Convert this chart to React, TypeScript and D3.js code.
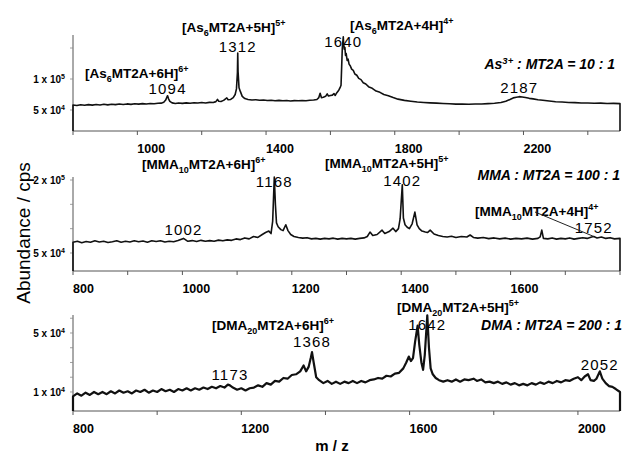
import * as d3 from "d3";

// m/z and abundance (in 1000 cps)
const asSpectrum: [number, number][] = [
  [800, 58], [812, 57.2], [824, 58.4], [836, 57.6], [848, 58.6], [860, 57.8], [872, 58.8], [884, 58.1],
  [896, 59.2], [908, 58.3], [920, 59.3], [932, 58.6], [944, 59.6], [956, 58.9], [968, 59.8], [980, 59.1],
  [992, 60.1], [1004, 59.4], [1016, 60.3], [1028, 59.6], [1040, 60.5], [1052, 60], [1064, 60.8], [1074, 61],
  [1082, 62.5], [1088, 66], [1092, 71], [1094, 73], [1097, 68], [1101, 64], [1108, 61.5], [1118, 60.6],
  [1128, 61.4], [1140, 60.7], [1152, 61.5], [1164, 60.9], [1176, 61.8], [1188, 61.2], [1200, 62], [1212, 61.4],
  [1224, 62.3], [1236, 62], [1244, 63.5], [1249, 67], [1253, 64], [1260, 63.8], [1268, 65.5], [1274, 68],
  [1278, 69.5], [1282, 66.5], [1290, 67], [1298, 70], [1304, 75], [1308, 84], [1311, 110], [1312, 142],
  [1313, 112], [1316, 86], [1320, 80], [1326, 72], [1334, 68.5], [1344, 67], [1356, 66.2], [1368, 66.6],
  [1380, 65.6], [1392, 66.1], [1404, 65.2], [1416, 65.8], [1428, 65], [1440, 65.5], [1452, 64.8], [1464, 65.3],
  [1476, 64.6], [1488, 65.1], [1500, 64.8], [1512, 65.4], [1524, 65], [1536, 65.8], [1548, 66], [1558, 67],
  [1564, 70], [1568, 77], [1572, 70], [1578, 70.5], [1585, 72], [1590, 76], [1594, 72.5], [1600, 73.5],
  [1606, 74], [1611, 76.5], [1615, 73.5], [1620, 78], [1626, 82], [1630, 86], [1633, 90], [1635, 120],
  [1637, 150], [1639, 162], [1640, 168], [1641, 158], [1643, 148], [1645, 151], [1647, 138], [1649, 141],
  [1652, 130], [1655, 132], [1658, 124], [1662, 121], [1666, 116], [1671, 114], [1676, 108], [1682, 106],
  [1688, 101], [1695, 99], [1702, 94], [1710, 92], [1720, 87], [1730, 85], [1742, 80.5], [1754, 78.5],
  [1766, 75], [1780, 73], [1795, 70], [1810, 67.5], [1830, 65.5], [1850, 64.2], [1870, 63], [1890, 62.2],
  [1910, 61.5], [1930, 61], [1950, 60.4], [1970, 60], [1990, 59.5], [2010, 59.5], [2030, 59.2], [2050, 59.6],
  [2070, 59.6], [2090, 60.2], [2110, 60.8], [2130, 62], [2145, 64], [2158, 67], [2168, 69.5], [2178, 70.5],
  [2187, 71.5], [2196, 71], [2206, 70.2], [2218, 68.8], [2230, 67.9], [2245, 66.5], [2260, 65.6], [2280, 64.4],
  [2300, 63.4], [2320, 62.8], [2340, 62.2], [2360, 61.9], [2380, 61.4], [2400, 61.2], [2420, 60.8], [2440, 61],
  [2460, 60.5], [2480, 60.7], [2500, 60.3],
];

const mmaSpectrum: [number, number][] = [
  [800, 72], [808, 74], [816, 71], [824, 73.5], [832, 72], [840, 75], [848, 72.5], [856, 74], [864, 71.5],
  [872, 73], [880, 75], [888, 72], [896, 74], [904, 72.5], [912, 75], [920, 73], [928, 74.5], [936, 72],
  [944, 75], [952, 73.5], [960, 75], [968, 72.5], [976, 74], [984, 73], [992, 75.5], [1002, 80], [1010, 74],
  [1018, 75.5], [1026, 73.5], [1034, 76], [1042, 74], [1050, 75.5], [1058, 74], [1066, 76.5], [1074, 75],
  [1082, 77], [1090, 76], [1098, 79], [1106, 77.5], [1114, 81], [1122, 79], [1130, 84], [1138, 82],
  [1146, 88], [1152, 92], [1158, 95], [1162, 90], [1165, 115], [1168, 206], [1170, 150], [1172, 112],
  [1175, 104], [1180, 98], [1184, 96], [1189, 108], [1193, 96], [1198, 88], [1204, 84], [1212, 82],
  [1220, 80.5], [1228, 81.5], [1236, 79], [1244, 80], [1252, 78.5], [1260, 80], [1268, 79], [1276, 80.5],
  [1284, 78.5], [1292, 80], [1300, 79], [1308, 80], [1316, 78.5], [1324, 80], [1332, 81], [1338, 84],
  [1343, 93], [1348, 86], [1356, 88], [1365, 97], [1370, 90], [1378, 94], [1385, 101], [1390, 94],
  [1395, 100], [1398, 120], [1402, 190], [1404, 122], [1407, 108], [1411, 103], [1415, 100], [1420, 110],
  [1425, 134], [1429, 108], [1433, 100], [1438, 95], [1444, 93], [1448, 92], [1453, 97], [1460, 89],
  [1468, 86], [1476, 84], [1484, 83], [1492, 84.5], [1500, 82], [1510, 84], [1520, 83], [1526, 87],
  [1532, 82], [1540, 80.5], [1550, 82], [1560, 79.5], [1570, 81], [1580, 79], [1590, 80.5], [1600, 78.5],
  [1610, 80], [1620, 79], [1630, 80.5], [1640, 78.5], [1650, 80], [1654, 83], [1657, 97], [1660, 80],
  [1668, 79], [1676, 81], [1684, 78.5], [1692, 80], [1700, 79], [1708, 81], [1716, 78.5], [1724, 80],
  [1732, 81.5], [1740, 80], [1748, 83], [1752, 84], [1758, 81], [1766, 83], [1774, 80], [1782, 81.5],
  [1790, 79], [1800, 80],
];

const dmaSpectrum: [number, number][] = [
  [800, 7], [810, 9], [820, 7.5], [830, 9.5], [840, 8], [850, 10], [860, 8.5], [870, 10], [880, 8.5],
  [890, 10.5], [900, 9], [910, 11], [920, 9.5], [930, 10.5], [940, 9], [950, 11], [960, 10], [970, 11.5],
  [980, 9.5], [990, 11], [1000, 10], [1010, 12], [1020, 10.5], [1030, 11.5], [1040, 10], [1050, 12],
  [1060, 11], [1070, 12.5], [1080, 11], [1090, 12.5], [1100, 11.5], [1110, 13], [1120, 12], [1130, 13.5],
  [1140, 12.5], [1150, 14], [1160, 13], [1168, 15], [1173, 14.5], [1180, 13], [1190, 11.5], [1200, 12.5],
  [1210, 11], [1220, 12.5], [1230, 13], [1240, 14.5], [1250, 13.5], [1260, 16], [1270, 15], [1280, 17.5],
  [1290, 17], [1300, 19.5], [1310, 19], [1320, 21.5], [1330, 22], [1340, 24], [1348, 28], [1354, 24],
  [1360, 27], [1365, 33], [1368, 37], [1372, 30], [1378, 20], [1385, 18], [1395, 16], [1405, 17.5],
  [1415, 15.5], [1425, 17], [1435, 15.5], [1445, 17], [1455, 16], [1465, 17.5], [1475, 16], [1485, 17.5],
  [1495, 16.5], [1505, 18], [1515, 18.5], [1525, 19.5], [1535, 19], [1545, 21], [1555, 20.5], [1565, 22.5],
  [1575, 23], [1585, 26], [1592, 30], [1598, 34], [1603, 31], [1608, 33], [1613, 44], [1619, 55],
  [1623, 42], [1628, 30], [1632, 25], [1636, 35], [1642, 62], [1646, 40], [1650, 26], [1655, 22],
  [1662, 19.5], [1670, 18], [1680, 17], [1690, 18], [1700, 17], [1710, 18.5], [1720, 17], [1730, 18.5],
  [1740, 18], [1752, 19], [1760, 17.5], [1770, 18.5], [1780, 16.5], [1790, 17], [1800, 16], [1810, 17],
  [1820, 15.5], [1830, 16.5], [1840, 15], [1850, 16], [1860, 14.5], [1870, 15.5], [1880, 14.5], [1890, 16],
  [1900, 15], [1910, 16.5], [1920, 15.5], [1930, 17], [1940, 16], [1950, 17.5], [1960, 16.5], [1970, 18],
  [1980, 17.5], [1990, 19], [2000, 20], [2008, 18], [2016, 20.5], [2024, 22], [2030, 18], [2038, 17.5],
  [2044, 19], [2052, 24], [2058, 19], [2066, 16], [2074, 14], [2082, 13.5], [2090, 12], [2100, 10],
];

const asPeaks = [1094, 1312, 1640, 2187];
const mmaPeaks = [1002, 1168, 1402, 1752];
const dmaPeaks = [1173, 1368, 1642, 2052];

const asXLabels = [1000, 1400, 1800, 2200];
const mmaXLabels = [800, 1000, 1200, 1400, 1600];
const dmaXLabels = [800, 1200, 1600, 2000];

const asYLabels = [5e4, 1e5];
const mmaYLabels = [5e4, 2e5];
const dmaYLabels = [1e4, 5e4];

const FONT = "Liberation Sans, Arial, Helvetica, sans-serif";
const L = 73;
const R = 620;

type Scale = d3.ScaleLinear<number, number>;

function Ion({ x, y, pre, sub, post, sup }: any) {
  return (
    <text x={x} y={y} fontFamily={FONT} fontWeight="bold" fontSize={13.5}>
      {pre}
      <tspan dy={3.5} fontSize={9}>{sub}</tspan>
      <tspan dy={-3.5}>{post}</tspan>
      <tspan dy={-6} fontSize={9}>{sup}</tspan>
    </text>
  );
}

function Ratio({ x, y, pre, sup, post }: any) {
  return (
    <text x={x} y={y} textAnchor="end" fontFamily={FONT} fontWeight="bold" fontStyle="italic" fontSize={14}>
      {pre}
      {sup && <tspan dy={-5} fontSize={9.5}>{sup}</tspan>}
      <tspan dy={sup ? 5 : 0}>{post}</tspan>
    </text>
  );
}

function PeakNum({ x, y, v }: any) {
  return (
    <text x={x} y={y} textAnchor="middle" fontFamily={FONT} fontSize={15} letterSpacing={1.2}>
      {v}
    </text>
  );
}

function Panel({ data, xDomain, yDomain, top, bottom, xStep, xLabels, yStep, yLabels, peaks, peakY, lineW, children }: any) {
  const x: Scale = d3.scaleLinear().domain(xDomain).range([L, R]);
  const y: Scale = d3.scaleLinear().domain(yDomain).range([bottom, top]);
  const line = d3.line<[number, number]>().x((d) => x(d[0])).y((d) => y(d[1] * 1000));
  const first = data[0][0];
  const last = data[data.length - 1][0];
  const path = `M${x(first)},${bottom}L${line(data)!.slice(1)}L${x(last)},${bottom}`;
  const xTicks = d3.range(xDomain[0], xDomain[1] + 1, xStep);
  const yTicks = d3.range(yStep, yDomain[1], yStep).filter((v) => v > yDomain[0]);

  return (
    <g>
      <line x1={L} x2={L} y1={top} y2={bottom} stroke="#555" strokeWidth={1} />
      <line x1={L} x2={R} y1={bottom} y2={bottom} stroke="#555" strokeWidth={1} />
      {yTicks.map((v: number) => (
        <line key={v} x1={L - 3} x2={L} y1={y(v)} y2={y(v)} stroke="#888" strokeWidth={0.8} />
      ))}
      {xTicks.map((v: number) => (
        <line key={v} x1={x(v)} x2={x(v)} y1={bottom} y2={bottom + 4} stroke="#555" strokeWidth={1} />
      ))}
      {xLabels.map((v: number) => (
        <text key={v} x={x(v)} y={bottom + 22} fontFamily={FONT} fontWeight="bold" fontSize={12.5}>
          {v}
        </text>
      ))}
      {yLabels.map((v: number) => {
        const e = Math.floor(Math.log10(v));
        const m = Math.round(v / Math.pow(10, e));
        return (
          <text key={v} x={65} y={y(v) + 4} textAnchor="end" fontFamily={FONT} fontWeight="bold" fontSize={10}>
            {`${m} x 10`}
            <tspan dy={-4} fontSize={7}>{e}</tspan>
          </text>
        );
      })}
      <path d={path} fill="none" stroke="#111" strokeWidth={lineW} strokeLinejoin="round" />
      {peaks.map((p: number, i: number) => (
        <PeakNum key={p} x={x(p)} y={peakY[i]} v={p} />
      ))}
      {children && children(x, y)}
    </g>
  );
}

export default function App() {
  return (
    <div style={{ position: "fixed", left: 0, top: 0 }}>
      <svg width={626} height={453} style={{ display: "block", background: "#fff" }}>
        <Panel
          data={asSpectrum}
          xDomain={[800, 2500]}
          yDomain={[16100, 171000]}
          top={35}
          bottom={131}
          xStep={200}
          xLabels={asXLabels}
          yStep={50000}
          yLabels={asYLabels}
          peaks={asPeaks}
          peakY={[94, 52, 47, 93]}
          lineW={1.6}
        >
          {() => (
            <g>
              <Ion x={85} y={78} pre="[As" sub="6" post="MT2A+6H]" sup="6+" />
              <Ion x={182} y={32} pre="[As" sub="6" post="MT2A+5H]" sup="5+" />
              <Ion x={350} y={30} pre="[As" sub="6" post="MT2A+4H]" sup="4+" />
              <Ratio x={615} y={69} pre="As" sup="3+" post=" : MT2A = 10 : 1" />
            </g>
          )}
        </Panel>
        <Panel
          data={mmaSpectrum}
          xDomain={[800, 1800]}
          yDomain={[13000, 206200]}
          top={177}
          bottom={271}
          xStep={100}
          xLabels={mmaXLabels}
          yStep={50000}
          yLabels={mmaYLabels}
          peaks={mmaPeaks}
          peakY={[235, 187, 186, 233]}
          lineW={1.6}
        >
          {(x: Scale, y: Scale) => (
            <g>
              <Ion x={142} y={169} pre="[MMA" sub="10" post="MT2A+6H]" sup="6+" />
              <Ion x={325} y={168} pre="[MMA" sub="10" post="MT2A+5H]" sup="5+" />
              <Ion x={475} y={216} pre="[MMA" sub="10" post="MT2A+4H]" sup="4+" />
              <Ratio x={620} y={180} pre="MMA : MT2A = 100 : 1" post="" />
              <line x1={535} y1={212} x2={x(1752)} y2={y(84000)} stroke="#222" strokeWidth={1} />
            </g>
          )}
        </Panel>
        <Panel
          data={dmaSpectrum}
          xDomain={[800, 2100]}
          yDomain={[-2900, 62200]}
          top={315}
          bottom={411}
          xStep={200}
          xLabels={dmaXLabels}
          yStep={10000}
          yLabels={dmaYLabels}
          peaks={dmaPeaks}
          peakY={[380, 347, 330, 370]}
          lineW={2.2}
        >
          {() => (
            <g>
              <Ion x={212} y={330} pre="[DMA" sub="20" post="MT2A+6H]" sup="6+" />
              <Ion x={397} y={312} pre="[DMA" sub="20" post="MT2A+5H]" sup="5+" />
              <Ratio x={622} y={330} pre="DMA : MT2A = 200 : 1" post="" />
            </g>
          )}
        </Panel>
        <text
          transform="translate(30,233) rotate(-90)"
          textAnchor="middle"
          fontFamily={FONT}
          fontSize={19}
        >
          Abundance / cps
        </text>
        <text x={332} y={451} textAnchor="middle" fontFamily={FONT} fontWeight="bold" fontSize={15}>
          m / z
        </text>
      </svg>
    </div>
  );
}
